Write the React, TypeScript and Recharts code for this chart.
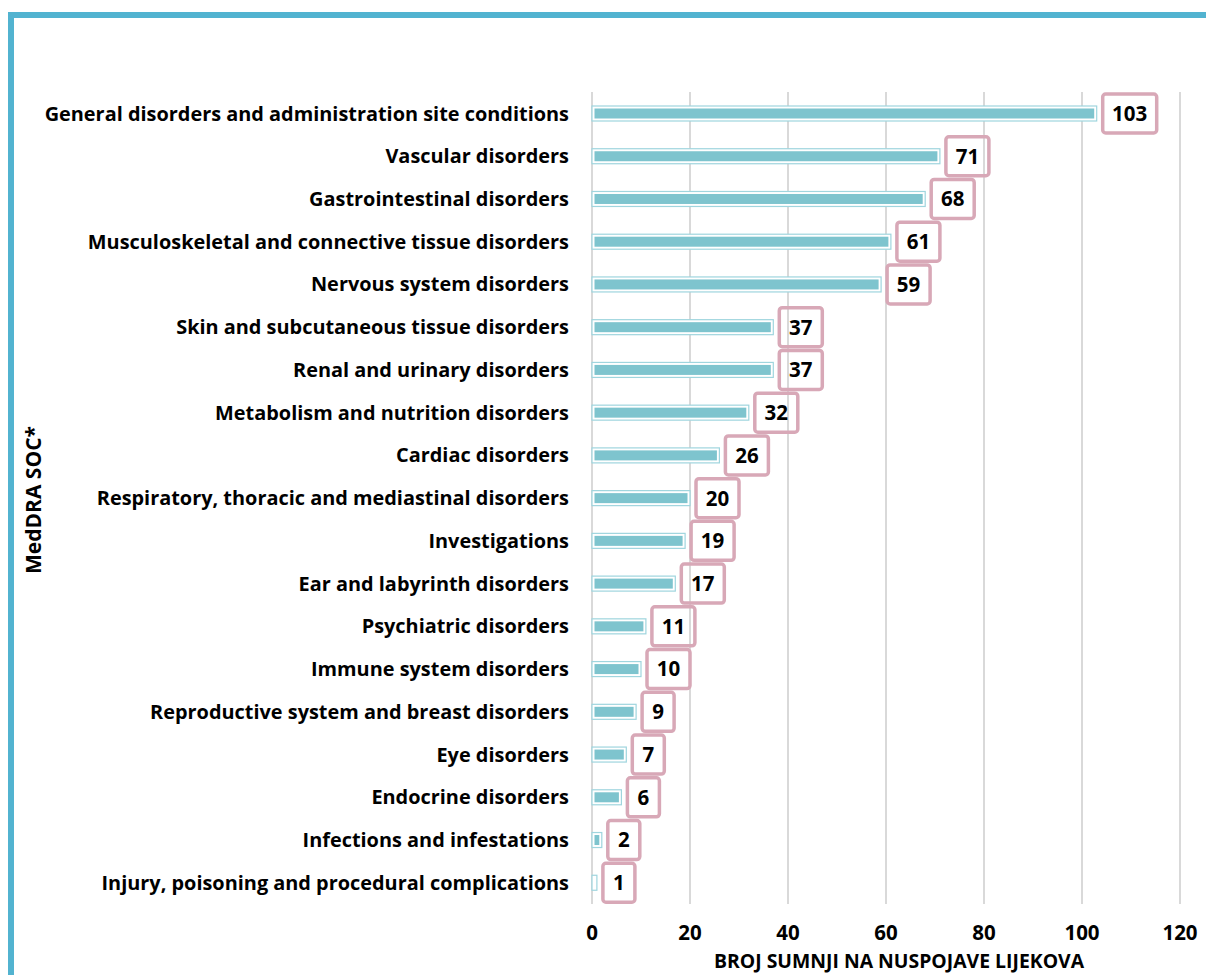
import { Bar, BarChart, CartesianGrid, LabelList, XAxis, YAxis } from "recharts";

const categories = [
  "General disorders and administration site conditions",
  "Vascular disorders",
  "Gastrointestinal disorders",
  "Musculoskeletal and connective tissue disorders",
  "Nervous system disorders",
  "Skin and subcutaneous tissue disorders",
  "Renal and urinary disorders",
  "Metabolism and nutrition disorders",
  "Cardiac disorders",
  "Respiratory, thoracic and mediastinal disorders",
  "Investigations",
  "Ear and labyrinth disorders",
  "Psychiatric disorders",
  "Immune system disorders",
  "Reproductive system and breast disorders",
  "Eye disorders",
  "Endocrine disorders",
  "Infections and infestations",
  "Injury, poisoning and procedural complications",
];

const reports = [103, 71, 68, 61, 59, 37, 37, 32, 26, 20, 19, 17, 11, 10, 9, 7, 6, 2, 1];

const xTicks = [0, 20, 40, 60, 80, 100, 120];

const data = categories.map((name, i) => ({ name, value: reports[i] }));

const FONT = "'Open Sans', sans-serif";

// outlined bar: light teal frame, white gap, teal fill
function FramedBar(props: any) {
  const { x, y, width, height } = props;
  if (width == null || height == null) return null;
  const inset = 2.5;
  return (
    <g>
      <rect x={x} y={y} width={Math.max(width, 1)} height={height} fill="#fff" stroke="#9fd5de" strokeWidth={1.2} />
      {width > inset * 2 && (
        <rect x={x + inset} y={y + inset} width={width - inset * 2} height={height - inset * 2} fill="#7ec4ce" />
      )}
    </g>
  );
}

// value in a pink outlined box (no fill, grid shows through)
function BoxLabel(props: any) {
  const { x, y, width, height, value } = props;
  const w = String(value).length * 11 + 21;
  const bx = x + width + 6;
  const cy = y + height / 2;
  return (
    <g>
      <rect x={bx} y={cy - 19.5} width={w} height={39} rx={3} fill="none" stroke="#d8a8b7" strokeWidth={3.5} />
      <text x={bx + w / 2} y={cy} dy="0.36em" textAnchor="middle" fontFamily={FONT} fontWeight={700} fontSize={20.5} fill="#000">
        {value}
      </text>
    </g>
  );
}

function CategoryTick(props: any) {
  const { y, payload } = props;
  return (
    <text x={569} y={y} dy="0.36em" textAnchor="end" fontFamily={FONT} fontWeight={700} fontSize={19.9} fill="#000">
      {payload.value}
    </text>
  );
}

function ValueTick(props: any) {
  const { x, payload } = props;
  return (
    <text x={x} y={933} dy="0.36em" textAnchor="middle" fontFamily={FONT} fontWeight={700} fontSize={20.5} fill="#000">
      {payload.value}
    </text>
  );
}

export default function App() {
  return (
    <div style={{ position: "absolute", left: 0, top: 0, width: 1206, height: 975, overflow: "hidden", background: "#fff" }}>
      <div
        style={{
          position: "absolute",
          left: 8,
          top: 12,
          width: 1400,
          height: 1200,
          borderLeft: "6px solid #52b3d0",
          borderTop: "6px solid #52b3d0",
        }}
      />
      <div style={{ position: "absolute", left: 0, top: 0 }}>
        <BarChart
          width={1206}
          height={975}
          data={data}
          layout="vertical"
          margin={{ top: 92, right: 26, left: 0, bottom: 0 }}
          barCategoryGap={0}
        >
          <CartesianGrid horizontal={false} stroke="#d9d9d9" strokeWidth={2} />
          <XAxis
            type="number"
            domain={[0, 120]}
            ticks={xTicks}
            axisLine={false}
            tickLine={false}
            height={71}
            tick={<ValueTick />}
            interval={0}
          />
          <YAxis
            type="category"
            dataKey="name"
            width={592}
            axisLine={false}
            tickLine={false}
            tick={<CategoryTick />}
            interval={0}
          />
          <Bar dataKey="value" barSize={15} shape={<FramedBar />} isAnimationActive={false}>
            <LabelList dataKey="value" content={<BoxLabel />} />
          </Bar>
        </BarChart>
      </div>
      <svg width={1206} height={975} style={{ position: "absolute", left: 0, top: 0, pointerEvents: "none" }}>
        <text
          x={33}
          y={500}
          transform="rotate(-90 33 500)"
          textAnchor="middle"
          dy="0.36em"
          fontFamily={FONT}
          fontWeight={700}
          fontSize={21}
          fill="#000"
        >
          MedDRA SOC*
        </text>
        <text x={899} y={961} textAnchor="middle" dy="0.36em" fontFamily={FONT} fontWeight={700} fontSize={19.4} fill="#000">
          BROJ SUMNJI NA NUSPOJAVE LIJEKOVA
        </text>
      </svg>
    </div>
  );
}
